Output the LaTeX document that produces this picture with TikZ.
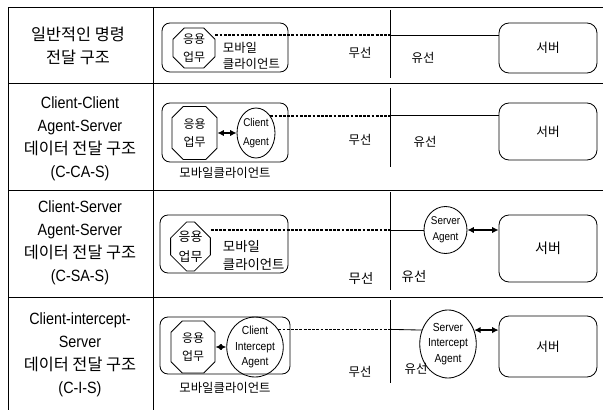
\documentclass[tikz,border=0pt]{standalone}
\usepackage{fontspec}
\setmainfont{Noto Sans CJK KR}
\newfontfamily\latn[FakeStretch=0.88]{Liberation Sans}
\usetikzlibrary{positioning,arrows.meta,shapes.geometric,shapes.misc}
\tikzset{
  rule/.style={line width=0.7pt},
  wire/.style={line width=0.6pt},
  wless/.style={line width=0.9pt, dash pattern=on 2pt off 1pt},
  dbl/.style={{Latex[length=1.6mm,width=1.6mm]}-{Latex[length=1.6mm,width=1.6mm]}, line width=1.2pt},
  cbox/.style={rectangle, rounded corners=2mm, draw, line width=0.6pt},
  sbox/.style={rectangle, rounded corners=2.5mm, draw, line width=0.6pt,
    font=\fontsize{9}{10}\selectfont},
  task/.style={chamfered rectangle, chamfered rectangle xsep=1.4mm,
    chamfered rectangle ysep=1.4mm, draw, line width=0.6pt, inner sep=0pt,
    align=center, font=\fontsize{8.5}{12.8}\selectfont},
  agent/.style={ellipse, draw, line width=0.6pt, inner sep=0pt, align=center,
    font=\latn\fontsize{8.3}{11}\selectfont},
  lab/.style={font=\fontsize{8.8}{11.4}\selectfont},
  head/.style={align=center, font=\fontsize{11.6}{16.3}\selectfont},
}

\begin{document}
\begin{tikzpicture}[x=0.25mm,y=-0.25mm]
\useasboundingbox (0,0) rectangle (603,410);

% ===== table rules =====
\draw[rule] (8,410) -- (8,7) -- (603,7);
\draw[rule] (153,7) -- (153,410);
\foreach \y in {83,190,297}
  \draw[rule] (8,\y) -- (603,\y);

% ===== headings (left column) =====
\node[head] (h1) at (78,45.5) {일반적인 명령\\전달 구조};
\node[head] (h2) at (80,138.5)
  {{\latn Client-Client}\\{\latn Agent-Server}\\데이터 전달 구조\\{\latn (C-CA-S)}};
\node[head] (h3) at (80,243)
  {{\latn Client-Server}\\{\latn Agent-Server}\\데이터 전달 구조\\{\latn (C-SA-S)}};
\node[head] (h4) at (80,355)
  {{\latn Client-intercept-}\\{\latn Server}\\데이터 전달 구조\\{\latn (C-I-S)}};

% ===== row 1: plain command path =====
\node[cbox, minimum width=31.5mm, minimum height=12.25mm] (cl1) at (225,47.5) {};
\node[task, minimum width=10.5mm, minimum height=10mm] (op1) at (194,48) {응용\\업무};
\node[lab, anchor=west, align=left] (cn1) at (218,56) {모바일\\클라이언트};
\node[sbox, minimum width=24.5mm, minimum height=12.5mm] (sv1) at (548,48) {서버};
\node[lab] (ws1) at (360,53) {무선};
\node[lab] (wd1) at (423,58) {유선};
\coordinate (d1t) at (390,10);
\coordinate (d1b) at (390,78);
\draw[rule] (d1t) -- (d1b);
\coordinate (w1) at (390,35);
\draw[wless] (w1 -| op1.east) -- (w1);
\draw[wire] (w1) -- (w1 -| sv1.west);

% ===== row 2: C-CA-S =====
\node[cbox, minimum width=31.5mm, minimum height=14.75mm] (cl2) at (225,132.5) {};
\node[task, minimum width=11.25mm, minimum height=13.25mm] (op2) at (194.5,133) {응용\\업무};
\node[agent, minimum width=9.5mm, minimum height=12.5mm,
  font=\latn\fontsize{8}{13}\selectfont] (ca) at (256,133) {Client\\Agent};
\node[lab] (cn2) at (225,173) {모바일클라이언트};
\node[sbox, minimum width=24.5mm, minimum height=14.25mm] (sv2) at (548,131.5) {서버};
\node[lab] (ws2) at (360,140) {무선};
\node[lab] (wd2) at (425,142) {유선};
\coordinate (d2t) at (390,88);
\coordinate (d2b) at (390,167);
\draw[rule] (d2t) -- (d2b);
\draw[dbl] (op2.east) -- (ca.west);
\draw[wless] (ca.50) -- (ca.50 -| d2t);
\draw[wire] (ca.50 -| d2t) -- (ca.50 -| sv2.west);

% ===== row 3: C-SA-S =====
\node[cbox, minimum width=32mm, minimum height=14.5mm] (cl3) at (224,244) {};
\node[task, minimum width=9.75mm, minimum height=12.25mm, chamfered rectangle xsep=2mm,
  chamfered rectangle ysep=2mm, font=\fontsize{9.2}{14}\selectfont] (op3) at (190.5,246.5) {응용\\업무};
\node[lab, anchor=west, align=left, font=\fontsize{9.5}{12.8}\selectfont]
  (cn3) at (218,256) {모바일\\클라이언트};
\node[agent, minimum width=10.75mm, minimum height=11.75mm,
  font=\latn\fontsize{8}{11.5}\selectfont] (sa) at (445.5,230) {Server\\Agent};
\node[sbox, minimum width=24.5mm, minimum height=16.75mm,
  font=\fontsize{10}{11}\selectfont] (sv3) at (548,248.5) {서버};
\node[lab, font=\fontsize{9.5}{11}\selectfont] (ws3) at (361,278) {무선};
\node[lab, font=\fontsize{9.5}{11}\selectfont] (wd3) at (414,277) {유선};
\coordinate (d3t) at (390,192);
\coordinate (d3b) at (390,290);
\draw[rule] (d3t) -- (d3b);
\coordinate (w3) at (390,230);
\draw[wless] (w3 -| op3.east) -- (w3);
\draw[wire] (w3) -- (sa.west);
\draw[dbl] (sa.east) -- (sa.east -| sv3.west);

% ===== row 4: C-I-S =====
\node[cbox, minimum width=32.5mm, minimum height=14.25mm] (cl4) at (225,345.5) {};
\node[task, minimum width=11mm, minimum height=13mm] (op4) at (193,347) {응용\\업무};
\node[agent, minimum width=11.5mm, minimum height=15mm] (ci) at (255,347) {Client\\Intercept\\Agent};
\node[lab] (cn4) at (225,388) {모바일클라이언트};
\node[agent, minimum width=12mm, minimum height=17mm] (sia) at (448,344) {Server\\Intercept\\Agent};
\node[sbox, minimum width=24.5mm, minimum height=15.25mm] (sv4) at (548,346.5) {서버};
\node[lab] (ws4) at (360,372) {무선};
\node[lab] (wd4) at (416,369) {유선};
\coordinate (d4t) at (390,300);
\coordinate (d4b) at (390,383);
\draw[rule] (d4t) -- (d4b);
\draw[dbl] (op4.east) -- (ci.west);
\draw[wless] (ci.37) -- (ci.37 -| d4t);
\draw[wire] (ci.37 -| d4t) -- (sia.152);
\draw[dbl] (sia.28) -- (sia.28 -| sv4.west);

\end{tikzpicture}
\end{document}
